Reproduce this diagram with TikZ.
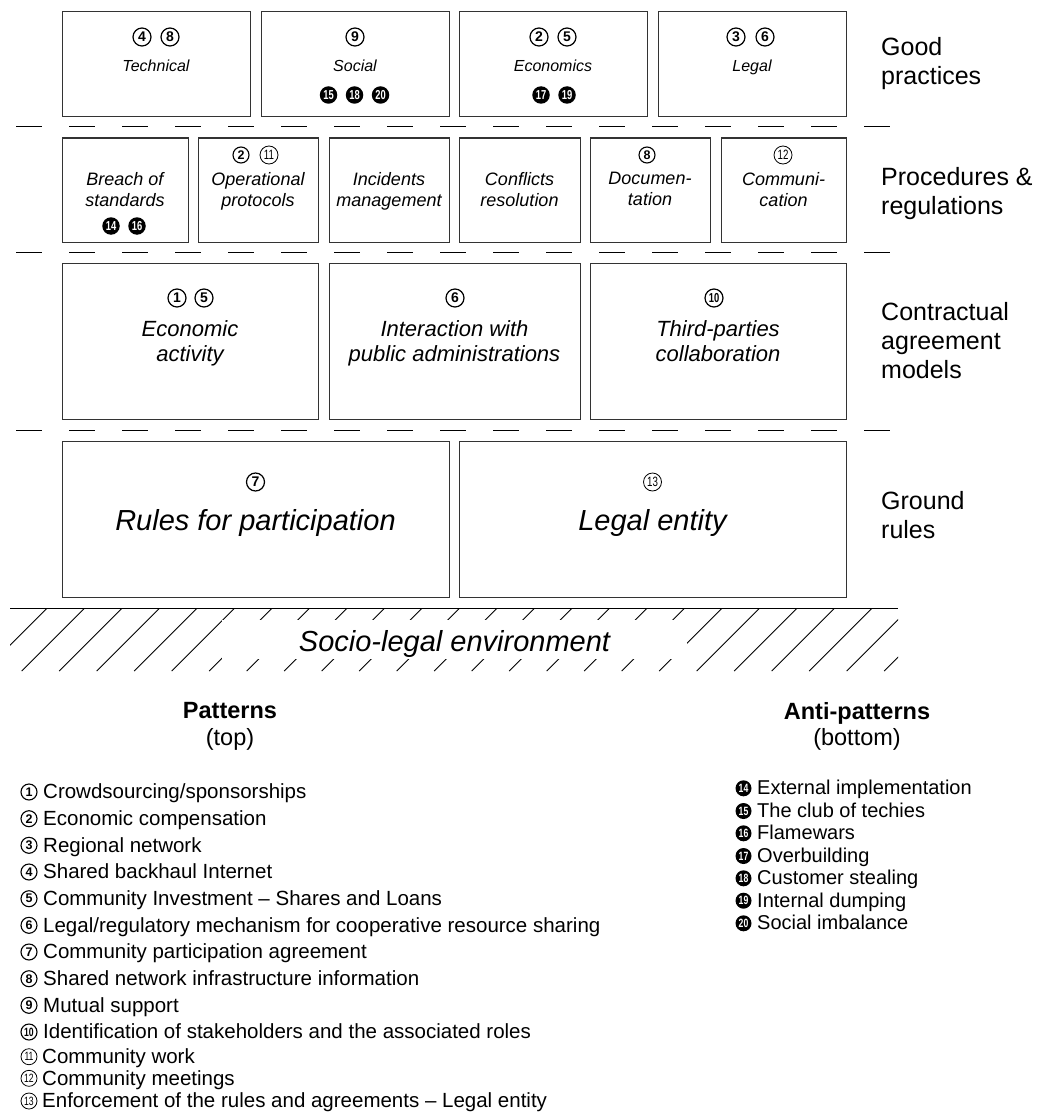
\documentclass[tikz,border=0pt]{standalone}
\usepackage{fontspec}
\setmainfont{Liberation Sans}
\newfontfamily\condensedsans[FakeStretch=0.72]{Liberation Sans}
\begin{document}
\begin{tikzpicture}[x=1pt,y=-1pt,
  frame/.style={draw=black!80, line width=1pt, inner sep=0pt},
  lbl/.style={inner sep=0pt, align=center, execute at begin node=\strut, execute at end node=\strut},
  gpfont/.style={font=\fontsize{16}{19}\selectfont\itshape},
  prfont/.style={font=\fontsize{18}{21}\selectfont\itshape},
  cafont/.style={font=\fontsize{22}{24.5}\selectfont\itshape},
  grfont/.style={font=\fontsize{29}{34}\selectfont\itshape},
  layer/.style={inner sep=0pt, anchor=west, align=left, font=\fontsize{25}{29}\selectfont,
    execute at begin node=\strut, execute at end node=\strut},
  sep/.style={line width=1pt, dash pattern=on 26pt off 27pt},
  hatch/.style={line width=0.8pt},
  % circled pattern numbers
  pat/.style={circle, draw=black, line width=1.2pt, inner sep=0pt, minimum size=18pt,
    font=\fontsize{14}{14}\selectfont\bfseries},
  patsm/.style={pat, minimum size=16pt, line width=1.1pt, font=\fontsize{12.5}{12.5}\selectfont\bfseries},
  patii/.style={pat, font=\fontsize{13}{13}\selectfont\condensedsans\bfseries},
  patthin/.style={pat, line width=0.8pt, font=\fontsize{13.5}{13.5}\selectfont\condensedsans},
  % negative circled anti-pattern numbers
  anti/.style={circle, fill=black, text=white, inner sep=0pt, minimum size=17.5pt,
    font=\fontsize{13}{13}\selectfont\condensedsans\bfseries},
  legpat/.style={pat, minimum size=16pt, line width=1.1pt, font=\fontsize{12.5}{12.5}\selectfont\bfseries},
  legpatii/.style={legpat, font=\fontsize{12}{12}\selectfont\condensedsans\bfseries},
  legthin/.style={legpat, line width=0.8pt, font=\fontsize{12}{12}\selectfont\condensedsans},
  leganti/.style={anti, minimum size=16pt, font=\fontsize{12}{12}\selectfont\condensedsans\bfseries},
  legtxt/.style={inner sep=0pt, anchor=base west, font=\fontsize{20.5}{24}\selectfont},
  antitxt/.style={inner sep=0pt, anchor=base west, font=\fontsize{20}{23}\selectfont},
]
\useasboundingbox (0,0) rectangle (1042,1113);

% ---------- Good practices ----------
\node[frame, minimum width=188pt, minimum height=105pt] (gTech) at (156,64.5) {};
\node[frame, minimum width=188pt, minimum height=105pt] (gSoc)  at (355,64.5) {};
\node[frame, minimum width=188pt, minimum height=105pt] (gEco)  at (553,64.5) {};
\node[frame, minimum width=188pt, minimum height=105pt] (gLeg)  at (752,64.5) {};
\node[lbl, gpfont] (tTech) at (156,67.5) {Technical};
\node[lbl, gpfont] (tSoc)  at (355,67.5) {Social};
\node[lbl, gpfont] (tEco)  at (553,67.5) {Economics};
\node[lbl, gpfont] (tLeg)  at (752,67.5) {Legal};
\node[pat] (cTechA) at (142,37) {4};
\node[pat] (cTechB) at (170,37) {8};
\node[pat] (cSocA)  at (355,37) {9};
\node[anti] (aSocA) at (328.5,95) {15};
\node[anti] (aSocB) at (354.5,95) {18};
\node[anti] (aSocC) at (380.5,95) {20};
\node[pat] (cEcoA)  at (539,37) {2};
\node[pat] (cEcoB)  at (567,37) {5};
\node[anti] (aEcoA) at (541,95) {17};
\node[anti] (aEcoB) at (567,95) {19};
\node[pat] (cLegA)  at (736,37) {3};
\node[pat] (cLegB)  at (765,37) {6};

% ---------- Procedures & regulations ----------
\node[frame, minimum width=126pt, minimum height=104pt] (pBreach) at (125,190) {};
\node[frame, minimum width=120pt, minimum height=104pt] (pOper)   at (258,190) {};
\node[frame, minimum width=120pt, minimum height=104pt] (pInc)    at (389,190) {};
\node[frame, minimum width=121pt, minimum height=104pt] (pConf)   at (519.5,190) {};
\node[frame, minimum width=120pt, minimum height=104pt] (pDoc)    at (650,190) {};
\node[frame, minimum width=125pt, minimum height=104pt] (pComm)   at (783.5,190) {};
\node[lbl, prfont] (tBreach) at (125,192.3) {Breach of\\standards};
\node[lbl, prfont] (tOper)   at (258,192.3) {Operational\\protocols};
\node[lbl, prfont] (tInc)    at (389,192.3) {Incidents\\management};
\node[lbl, prfont] (tConf)   at (519.5,192.3) {Conflicts\\resolution};
\node[lbl, prfont] (tDoc)    at (650,192.3) {Documen-\\tation};
\node[lbl, prfont] (tComm)   at (783.5,192.3) {Communi-\\cation};
\node[anti] (aBrA) at (111,226) {14};
\node[anti] (aBrB) at (137,226) {16};
\node[patsm] (cOpA) at (241,155) {2};
\node[patthin] (cOpB) at (269,155) {11};
\node[patsm] (cDoc) at (647,155) {8};
\node[patthin] (cComm) at (783,155) {12};

% ---------- Contractual agreement models ----------
\node[frame, minimum width=256pt, minimum height=156pt] (mEco)   at (190,341) {};
\node[frame, minimum width=251pt, minimum height=156pt] (mPub)   at (454.5,341) {};
\node[frame, minimum width=256pt, minimum height=156pt] (mThird) at (718,341) {};
\node[lbl, cafont] (tMEco)   at (190,344.6) {Economic\\activity};
\node[lbl, cafont] (tMPub)   at (454.5,344.6) {Interaction with\\public administrations};
\node[lbl, cafont] (tMThird) at (718,344.6) {Third-parties\\collaboration};
\node[pat] (cMEcoA) at (177,298) {1};
\node[pat] (cMEcoB) at (204,298) {5};
\node[pat] (cMPub)  at (455,298) {6};
\node[patii] (cMThird) at (714,298) {10};

% ---------- Ground rules ----------
\node[frame, minimum width=387pt, minimum height=156pt] (rPart)  at (255.5,519) {};
\node[frame, minimum width=387pt, minimum height=156pt] (rLegal) at (652.5,519) {};
\node[lbl, grfont] (tRPart)  at (255.5,523.2) {Rules for participation};
\node[lbl, grfont] (tRLegal) at (652.5,523.2) {Legal entity};
\node[pat] (cRPart) at (255.5,482) {7};
\node[patthin] (cRLegal) at (652.5,482) {13};

% ---------- layer separators ----------
\draw[sep] (16,127) -- (890,127);
\draw[sep] (16,252) -- (890,252);
\draw[sep] (16,430) -- (890,430);

% ---------- socio-legal environment ----------
\begin{scope}
  \clip (10,608) rectangle (898,671);
  \foreach \k in {-2,...,24}
    \draw[hatch] ({21.7+37.5*\k},671) -- ({84.7+37.5*\k},608);
\end{scope}
\fill[white] (222,620) rectangle (687,659);
\draw[line width=1pt] (10,608) -- (898,608);
\node[anchor=base, inner sep=0pt, grfont] (env) at (454.5,651) {Socio-legal environment};

% ---------- layer names ----------
\node[layer] (lGood)   at (881,64.9)  {Good\\practices};
\node[layer] (lProc)   at (881,194.9) {Procedures \&\\regulations};
\node[layer] (lCont)   at (881,344.4) {Contractual\\agreement\\models};
\node[layer] (lGround) at (881,518.9) {Ground\\rules};

% ---------- legend headings ----------
\node[lbl, font=\fontsize{23.5}{26.5}\selectfont] (hPat)  at (230,727.9) {\textbf{Patterns}\\(top)};
\node[lbl, font=\fontsize{23.5}{26.5}\selectfont] (hAnti) at (857,727.9) {\textbf{Anti-patterns}\\(bottom)};

% ---------- patterns ----------
\node[legpat] (k1) at (29,792) {1};
\node[legtxt] (e1) at (43,798.8) {Crowdsourcing/sponsorships};
\node[legpat] (k2) at (29,818.7) {2};
\node[legtxt] (e2) at (43,825.5) {Economic compensation};
\node[legpat] (k3) at (29,845.3) {3};
\node[legtxt] (e3) at (43,852.1) {Regional network};
\node[legpat] (k4) at (29,872) {4};
\node[legtxt] (e4) at (43,878.8) {Shared backhaul Internet};
\node[legpat] (k5) at (29,898.7) {5};
\node[legtxt] (e5) at (43,905.5) {Community Investment – Shares and Loans};
\node[legpat] (k6) at (29,925.3) {6};
\node[legtxt] (e6) at (43,932.1) {Legal/regulatory mechanism for cooperative resource sharing};
\node[legpat] (k7) at (29,952) {7};
\node[legtxt] (e7) at (43,958.8) {Community participation agreement};
\node[legpat] (k8) at (29,978.7) {8};
\node[legtxt] (e8) at (43,985.5) {Shared network infrastructure information};
\node[legpat] (k9) at (29,1005.3) {9};
\node[legtxt] (e9) at (43,1012.1) {Mutual support};
\node[legpatii] (k10) at (29,1032) {10};
\node[legtxt] (e10) at (43,1038.8) {Identification of stakeholders and the associated roles};
\node[legthin] (k11) at (29,1056.7) {11};
\node[legtxt] (e11) at (42,1063.5) {Community work};
\node[legthin] (k12) at (29,1078.3) {12};
\node[legtxt] (e12) at (42,1085.1) {Community meetings};
\node[legthin] (k13) at (29,1101) {13};
\node[legtxt] (e13) at (42,1107.8) {Enforcement of the rules and agreements – Legal entity};

% ---------- anti-patterns ----------
\node[leganti] (q14) at (743.5,788.3) {14};
\node[antitxt] (f14) at (757,794.9) {External implementation};
\node[leganti] (q15) at (743.5,811) {15};
\node[antitxt] (f15) at (757,817.6) {The club of techies};
\node[leganti] (q16) at (743.5,833.3) {16};
\node[antitxt] (f16) at (757,839.9) {Flamewars};
\node[leganti] (q17) at (743.5,856) {17};
\node[antitxt] (f17) at (757,862.6) {Overbuilding};
\node[leganti] (q18) at (743.5,878.3) {18};
\node[antitxt] (f18) at (757,884.9) {Customer stealing};
\node[leganti] (q19) at (743.5,900.7) {19};
\node[antitxt] (f19) at (757,907.3) {Internal dumping};
\node[leganti] (q20) at (743.5,923.3) {20};
\node[antitxt] (f20) at (757,929.9) {Social imbalance};
\end{tikzpicture}
\end{document}
